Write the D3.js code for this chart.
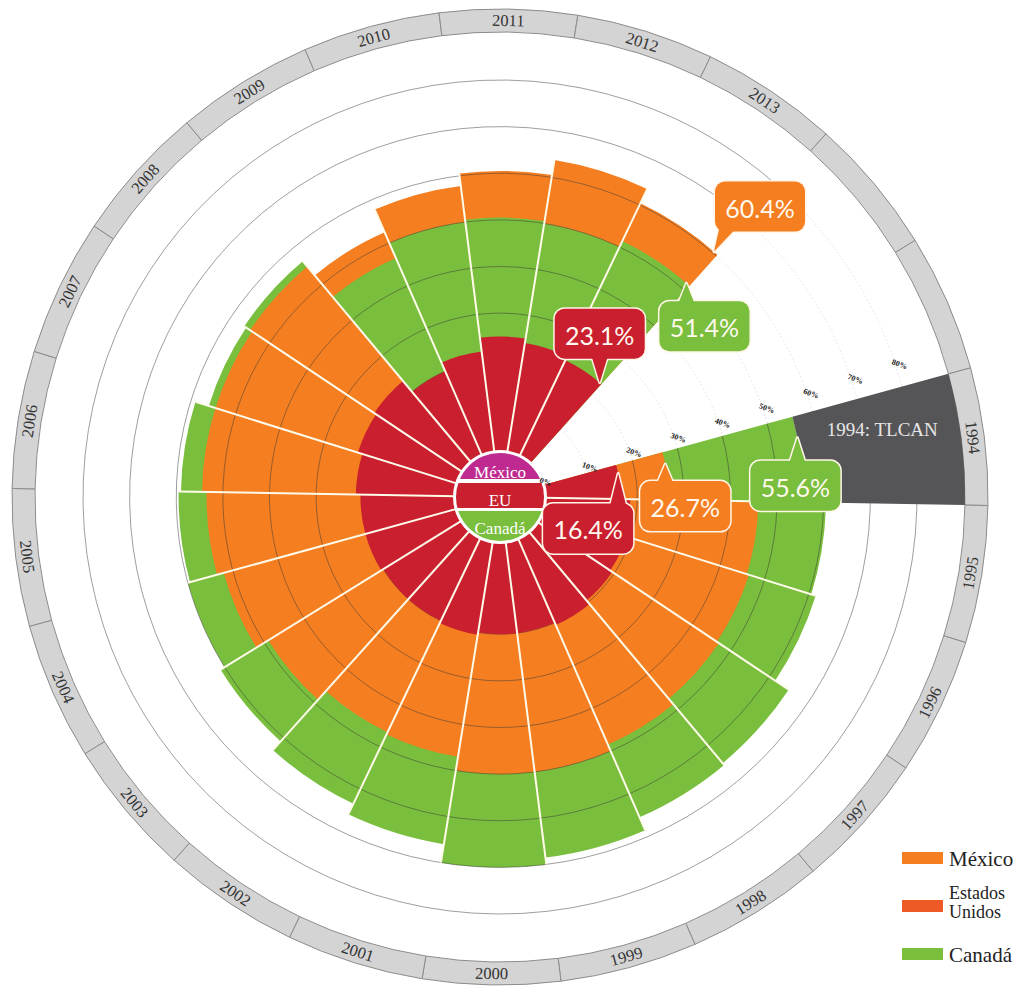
<!DOCTYPE html>
<html><head><meta charset="utf-8">
<script src="https://cdn.jsdelivr.net/npm/d3@7"></script>
<style>body{margin:0;background:#fff}svg{display:block}</style>
</head><body>
<svg id="chart" width="1033" height="988"></svg>
<script>
// ---------- data ----------
const years  = [1994,1995,1996,1997,1998,1999,2000,2001,2002,2003,2004,2005,2006,2007,2008,2009,2010,2011,2012,2013];
const mexico = [26.7,46,46.5,47,48.5,50,50,47,46.5,49,52,53.5,54.5,54.5,55,52.5,57.8,60.5,63.8,60.4];
const eu     = [16.4,18.5,19,19.5,20.5,20,20,20.5,20,20,20.5,20.5,21.5,22.5,23,20,22,25,24,23.1];
const canada = [55.6,60.5,61.5,65,65.5,68.5,70,66,63.5,61,60,59.5,59,56,56.5,46.5,50,50.5,50,51.4];
const gapSlots = ["g1","g2"];
const tickValues = [0,10,20,30,40,50,60,70,80];
const seriesNames = ["México","Estados Unidos","Canadá"];
const eventLabel = "1994: TLCAN";

// ---------- setup ----------
const W=1033,H=988,cx=500,cy=497;
const colors = {mexico:"#f47e20", eu:"#c91f2e", canada:"#79be3c"};
const series = {mexico, eu, canada};
const svg = d3.select("#chart");
const g = svg.append("g").attr("transform",`translate(${cx},${cy})`);
const r = d3.scaleLinear().domain([0,80]).range([44,417]);
const ringIn=465, ringOut=488;
const step = 2*Math.PI/22;
const a0 = (1*Math.PI/180) - 17.5*step;
const slots = years.map(String).concat(gapSlots);
const ang = d3.scaleBand().domain(slots).range([a0, a0+2*Math.PI]);
const bw = ang.bandwidth();
const rows = years.map((y,i)=>({year:y, mexico:mexico[i], eu:eu[i], canada:canada[i]}));
const arc = d3.arc();
const deg = a => a*180/Math.PI;
const pt = (a,R) => [Math.sin(a)*R, -Math.cos(a)*R];
function arcLine(R,s,e){ const p=d3.path(); const [x,y]=pt(s,R); p.moveTo(x,y); p.arc(0,0,R,s-Math.PI/2,e-Math.PI/2); return p.toString(); }

// ---------- outer ring ----------
const ring = g.append("g");
ring.selectAll("path").data(slots).join("path")
  .attr("d", s=>arc({innerRadius:ringIn,outerRadius:ringOut,startAngle:ang(s),endAngle:ang(s)+bw}))
  .attr("fill","#d4d4d4").attr("stroke","#8c8c8c").attr("stroke-width",1);
ring.selectAll("text").data(years).join("text")
  .attr("transform", y=>{ const a=ang(String(y))+bw/2; const [x,yy]=pt(a,(ringIn+ringOut)/2);
      let d=((deg(a)%360)+360)%360; let rot=(d>90&&d<270)?d-180:d; return `translate(${x},${yy}) rotate(${rot})`; })
  .attr("text-anchor","middle").attr("dominant-baseline","central")
  .attr("font-family","Liberation Serif, DejaVu Serif, serif").attr("font-size",16.5).attr("fill","#333")
  .text(y=>y);

// faint dotted grid in the gap
const gapStart = ang("g1"), gapEnd = ang("g2")+bw;
g.append("g").selectAll("path").data(tickValues.slice(1)).join("path")
  .attr("d",v=>arcLine(r(v),gapStart,gapEnd)).attr("fill","none")
  .attr("stroke","#d8d8d8").attr("stroke-width",0.8).attr("stroke-dasharray","1.5,2.5");

// ---------- bars (back: canada & mexico, larger first) ----------
const back = g.append("g");
rows.forEach(d=>{
  const items = ["canada","mexico"].map(k=>({k,v:d[k]})).sort((a,b)=>b.v-a.v);
  back.selectAll(null).data(items).join("path")
    .attr("d",it=>arc({innerRadius:r(0),outerRadius:r(it.v),startAngle:ang(String(d.year)),endAngle:ang(String(d.year))+bw}))
    .attr("fill",it=>colors[it.k]);
});

// grid arcs over the year range
const yrStart = ang("1994"), yrEnd = ang("2013")+bw;
g.append("g").selectAll("path").data(tickValues.slice(1)).join("path")
  .attr("d",v=>arcLine(r(v),yrStart,yrEnd)).attr("fill","none")
  .attr("stroke","#3a3a3a").attr("stroke-opacity",0.55).attr("stroke-width",0.9);

// front: EU
g.append("g").selectAll("path").data(rows).join("path")
  .attr("d",d=>arc({innerRadius:r(0),outerRadius:r(d.eu),startAngle:ang(String(d.year)),endAngle:ang(String(d.year))+bw}))
  .attr("fill",colors.eu);

// ---------- 1994 event wedge ----------
const first = rows[0];
const a94 = ang(String(first.year));
g.append("path")
  .attr("d",arc({innerRadius:r(Math.max(first.mexico,first.eu,first.canada)),outerRadius:ringIn,startAngle:a94,endAngle:a94+bw}))
  .attr("fill","#555558");
{
  const [x,y]=pt(a94+bw*0.33,(r(first.canada)+ringIn)/2+4);
  g.append("text").attr("x",x).attr("y",y).attr("text-anchor","middle").attr("dominant-baseline","central")
   .attr("font-family","Liberation Serif, DejaVu Serif, serif").attr("font-size",19).attr("fill","#e6e6e6").text(eventLabel);
}

// ---------- separators ----------
const maxV = d=>Math.max(d.mexico,d.eu,d.canada);
const seps = rows.slice(1).map((d,i)=>({a:ang(String(d.year)), R:r(Math.max(maxV(d),maxV(rows[i])))}));
g.append("g").selectAll("line").data(seps).join("line")
  .attr("x1",d=>pt(d.a,r(0))[0]).attr("y1",d=>pt(d.a,r(0))[1])
  .attr("x2",d=>pt(d.a,d.R)[0]).attr("y2",d=>pt(d.a,d.R)[1])
  .attr("stroke","#fffbea").attr("stroke-width",2);

// ---------- center badge ----------
const badge = g.append("g");
badge.append("circle").attr("r",47).attr("fill","#fff");
svg.append("defs").append("clipPath").attr("id","cc").append("circle").attr("r",44);
const bands = badge.append("g").attr("clip-path","url(#cc)");
bands.append("rect").attr("x",-50).attr("y",-50).attr("width",100).attr("height",32).attr("fill","#bf2a90");
bands.append("rect").attr("x",-50).attr("y",-14).attr("width",100).attr("height",25).attr("fill",colors.eu);
bands.append("rect").attr("x",-50).attr("y",14).attr("width",100).attr("height",36).attr("fill",colors.canada);
const bl = [["México",-25],["EU",3],["Canadá",31]];
badge.selectAll("text").data(bl).join("text").attr("x",0).attr("y",d=>d[1])
  .attr("text-anchor","middle").attr("dominant-baseline","central")
  .attr("font-family","Liberation Serif, DejaVu Serif, serif").attr("font-size",17).attr("fill","#fff").text(d=>d[0]);

// ---------- tick labels ----------
g.append("g").selectAll("text").data(tickValues).join("text")
  .attr("transform",v=>{ const [x,y]=pt(yrStart-3*Math.PI/180, r(v)+4); return `translate(${x},${y}) rotate(20)`; })
  .attr("text-anchor","middle").attr("dominant-baseline","central")
  .attr("font-family","Liberation Serif, DejaVu Serif, serif").attr("font-size",8).attr("font-weight","bold").attr("fill","#222")
  .text(v=>v+"%");

// ---------- callouts ----------
const callouts = [
  {year:2013,key:"mexico",dx:46,dy:-45,edge:"end"},
  {year:2013,key:"canada",dx:18,dy:43,edge:"end"},
  {year:2013,key:"eu",dx:0,dy:-49,edge:"end"},
  {year:1994,key:"canada",dx:-2,dy:48,edge:"start"},
  {year:1994,key:"mexico",dx:20,dy:42,edge:"start"},
  {year:1994,key:"eu",dx:-30,dy:55,edge:"start"}
];
const fmt = d3.format(".1f");
const bwBox=90,bhBox=50;
const co = g.append("g");
callouts.forEach(c=>{
  const i = years.indexOf(c.year); const v = series[c.key][i];
  const a = c.edge==="end" ? ang(String(c.year))+bw*0.95 : ang(String(c.year))+bw*0.25;
  const [tx,ty] = pt(a, r(v));
  const bx = tx+c.dx, by = ty+c.dy;
  const L=bx-bwBox/2, R=bx+bwBox/2, T=by-bhBox/2, B=by+bhBox/2;
  let tri;
  if (ty<T){ const m=Math.max(L+12,Math.min(R-12,tx)); tri=[[m-8,T+2],[m+8,T+2],[tx,ty]]; }
  else if (ty>B){ const m=Math.max(L+12,Math.min(R-12,tx)); tri=[[m-8,B-2],[m+8,B-2],[tx,ty]]; }
  else { const m=Math.max(T+12,Math.min(B-12,ty)); const ex = tx<L?L+2:R-2; tri=[[ex,m-8],[ex,m+8],[tx,ty]]; }
  const cg = co.append("g");
  const draw = (stroke)=>{
    cg.append("rect").attr("x",L).attr("y",T).attr("width",bwBox).attr("height",bhBox).attr("rx",10)
      .attr("fill",colors[c.key]).attr("stroke",stroke?"#fff6e8":"none").attr("stroke-width",stroke?3:0);
    cg.append("path").attr("d",d3.line()(tri)+"Z")
      .attr("fill",colors[c.key]).attr("stroke",stroke?"#fff6e8":"none").attr("stroke-width",stroke?3:0).attr("stroke-linejoin","round");
  };
  draw(true); draw(false);
  cg.append("text").attr("x",bx).attr("y",by+1).attr("text-anchor","middle").attr("dominant-baseline","central")
    .attr("font-family","Lato, Open Sans, sans-serif").attr("font-size",25).attr("fill","#fff8ee").text(fmt(v)+"%");
});

// ---------- legend ----------
const leg = svg.append("g").attr("transform","translate(902,852)");
const legItems = [
  {name:seriesNames[0], color:"#f47e20", lines:["México"], y:0},
  {name:seriesNames[1], color:"#ee5a26", lines:["Estados","Unidos"], y:48},
  {name:seriesNames[2], color:"#79be3c", lines:["Canadá"], y:96}
];
leg.selectAll("rect").data(legItems).join("rect")
  .attr("x",0).attr("y",d=>d.y).attr("width",41).attr("height",12).attr("fill",d=>d.color);
legItems.forEach(d=>{
  const multi = d.lines.length>1;
  const t = leg.append("text").attr("font-family","Liberation Serif, DejaVu Serif, serif")
    .attr("font-size",multi?18:21).attr("fill","#222");
  d.lines.forEach((ln,k)=>{
    t.append("tspan").attr("x",47).attr("y", multi ? d.y-1+k*19 : d.y+14).text(ln);
  });
});
</script>
</body></html>
